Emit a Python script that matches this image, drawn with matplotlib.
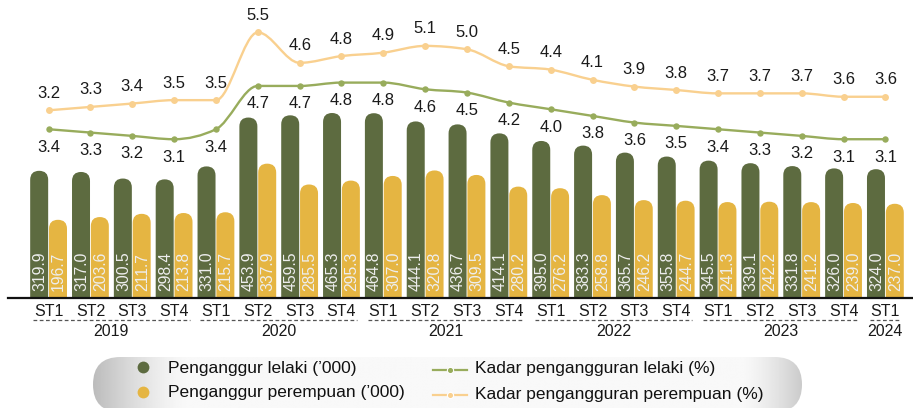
import matplotlib
matplotlib.use('Agg')
import matplotlib.pyplot as plt
import matplotlib.transforms as mtransforms
from matplotlib.patches import FancyBboxPatch, PathPatch
from matplotlib.path import Path
import numpy as np

plt.rcParams['font.family'] = ['Liberation Sans', 'DejaVu Sans']

# ---------------- data ----------------
quarters = ['ST1', 'ST2', 'ST3', 'ST4',
            'ST1', 'ST2', 'ST3', 'ST4',
            'ST1', 'ST2', 'ST3', 'ST4',
            'ST1', 'ST2', 'ST3', 'ST4',
            'ST1', 'ST2', 'ST3', 'ST4',
            'ST1']
years = ['2019', '2020', '2021', '2022', '2023', '2024']
year_quarters = [4, 4, 4, 4, 4, 1]

male_count = [319.9, 317.0, 300.5, 298.4, 331.0, 453.9, 459.5, 465.3, 464.8, 444.1,
              436.7, 414.1, 395.0, 383.3, 365.7, 355.8, 345.5, 339.1, 331.8, 326.0, 324.0]
female_count = [196.7, 203.6, 211.7, 213.8, 215.7, 337.9, 285.5, 295.3, 307.0, 320.8,
                309.5, 280.2, 276.2, 258.8, 246.2, 244.7, 241.3, 242.2, 241.2, 239.0, 237.0]
male_rate = [3.4, 3.3, 3.2, 3.1, 3.4, 4.7, 4.7, 4.8, 4.8, 4.6, 4.5,
             4.2, 4.0, 3.8, 3.6, 3.5, 3.4, 3.3, 3.2, 3.1, 3.1]
female_rate = [3.2, 3.3, 3.4, 3.5, 3.5, 5.5, 4.6, 4.8, 4.9, 5.1, 5.0,
               4.5, 4.4, 4.1, 3.9, 3.8, 3.7, 3.7, 3.7, 3.6, 3.6]

legend_labels = ["Penganggur lelaki (\u2019000)", "Penganggur perempuan (\u2019000)",
                 "Kadar pengangguran lelaki (%)", "Kadar pengangguran perempuan (%)"]

# ---------------- styles ----------------
GREEN = '#5D6B40'
YELLOW = '#E5B542'
MLINE = '#98AC5C'
FLINE = '#F9D08F'

W, H = 913, 408
fig = plt.figure(figsize=(W / 100, H / 100), dpi=100)
ax = fig.add_axes([8 / W, (H - 298) / H, 1 - 8 / W, 298 / H])
n = len(male_count)
x = np.arange(n)
ax.set_xlim(-0.97, 20.66)
ax.set_ylim(0, 749.5)

ax_px_w = (1 - 8 / W) * W
ax_px_h = 298
sx = ax_px_w / (20.66 + 0.97)   # px per x unit
sy = ax_px_h / 749.5            # px per y unit
aspect = sx / sy

bw = 0.43
off = 0.225
r = bw / 2


def rounded_bar(axis, xc, h, color):
    p = FancyBboxPatch((xc - bw / 2, -r * aspect), bw, h + r * aspect,
                       boxstyle=f"round,pad=0,rounding_size={r}",
                       mutation_aspect=aspect, facecolor=color, edgecolor='none',
                       zorder=2)
    axis.add_patch(p)


for i in range(n):
    rounded_bar(ax, x[i] - off, male_count[i], GREEN)
    rounded_bar(ax, x[i] + off, female_count[i], YELLOW)
    for xc, v in ((x[i] - off, male_count[i]), (x[i] + off, female_count[i])):
        ax.annotate(f"{v:.1f}", (xc, 0), xytext=(0.5, 5), textcoords='offset points',
                    rotation=90, ha='center', va='bottom', fontsize=11.3,
                    color='#EEEEEE', zorder=3)

for s in ('top', 'right', 'left'):
    ax.spines[s].set_visible(False)
ax.spines['bottom'].set_linewidth(1.6)
ax.spines['bottom'].set_color('#111111')
ax.spines['bottom'].set_zorder(5)
ax.set_yticks([])
ax.set_xticks(x, quarters, fontsize=11.5, color='#1a1a1a')
ax.tick_params(axis='x', length=0, pad=4.5)

# year groups
trans = mtransforms.blended_transform_factory(ax.transData, ax.transAxes)
start = 0
for yr, cnt in zip(years, year_quarters):
    a, b = start, start + cnt - 1
    ax.plot([a - 0.37, b + 0.37], [-0.074, -0.074], transform=trans, clip_on=False,
            color='#555555', lw=0.9, ls=(0, (3, 2)))
    ax.text((a + b) / 2, -0.112, yr, transform=trans, ha='center', va='center',
            fontsize=11.5, color='#1a1a1a')
    start += cnt


# ---------------- lines (monotone cubic drawing) ----------------
def monotone_path(xs, ys):
    xs = np.asarray(xs, float)
    ys = np.asarray(ys, float)
    m = len(xs)
    s = np.diff(ys) / np.diff(xs)
    t = np.zeros(m)
    for i in range(1, m - 1):
        s0, s1 = s[i - 1], s[i]
        p = (s0 + s1) / 2
        sg = (1 if s0 >= 0 else -1) + (1 if s1 >= 0 else -1)
        t[i] = sg * min(abs(s0), abs(s1), 0.5 * abs(p))
    t[0] = (3 * s[0] - t[1]) / 2
    t[-1] = (3 * s[-1] - t[-2]) / 2
    verts = [(xs[0], ys[0])]
    codes = [Path.MOVETO]
    for i in range(m - 1):
        dx = xs[i + 1] - xs[i]
        verts += [(xs[i] + dx / 3, ys[i] + dx * t[i] / 3),
                  (xs[i + 1] - dx / 3, ys[i + 1] - dx * t[i + 1] / 3),
                  (xs[i + 1], ys[i + 1])]
        codes += [Path.CURVE4] * 3
    return Path(verts, codes)


ax_f = ax.twinx()
ax_f.set_ylim(-2.336, 6.454)
ax_m = ax.twinx()
ax_m.set_ylim(-1.667, 7.28)
for a_ in (ax_f, ax_m):
    a_.axis('off')
    a_.set_xlim(ax.get_xlim())

ax_f.add_patch(PathPatch(monotone_path(x, female_rate), fill=False, edgecolor=FLINE, lw=1.7))
ax_f.plot(x, female_rate, 'o', ms=5, color=FLINE, mec='none')
for xi, v in zip(x, female_rate):
    ax_f.annotate(f"{v:.1f}", (xi, v), xytext=(0, 12.2), textcoords='offset points',
                  ha='center', va='center', fontsize=12, color='#1a1a1a')

ax_m.add_patch(PathPatch(monotone_path(x, male_rate), fill=False, edgecolor=MLINE, lw=1.7))
ax_m.plot(x, male_rate, 'o', ms=4.6, color=MLINE, mec='none')
for xi, v in zip(x, male_rate):
    ax_m.annotate(f"{v:.1f}", (xi, v), xytext=(0, -12.8), textcoords='offset points',
                  ha='center', va='center', fontsize=12, color='#1a1a1a')

# ---------------- legend (pill) ----------------
lax = fig.add_axes([0, 0, 1, 1], zorder=-1)
lax.set_xlim(0, W)
lax.set_ylim(H, 0)
lax.axis('off')

px0, px1, py0, py1 = 93, 802, 357, 412
pill = FancyBboxPatch((px0, py0), px1 - px0, py1 - py0,
                      boxstyle=f"round,pad=0,rounding_size={(py1 - py0) / 2}",
                      facecolor='none', edgecolor='none')
lax.add_patch(pill)
gx = np.linspace(px0, px1, 800)
left = np.clip(1 - (gx - px0) / 95, 0, 1) ** 1.4
right = np.clip(1 - (px1 - gx) / 60, 0, 1) ** 1.4
vals = 0.975 - 0.24 * left - 0.18 * right
grad = np.tile(vals, (2, 1))
im = lax.imshow(grad, cmap='gray', vmin=0, vmax=1, aspect='auto',
                extent=(px0, px1, py1, py0), interpolation='bilinear')
im.set_clip_path(pill)

lax.plot([143], [367], 'o', ms=8.5, color=GREEN, mec='none')
lax.plot([143], [392], 'o', ms=8.5, color=YELLOW, mec='none')
lax.text(168, 368, legend_labels[0], va='center', ha='left', fontsize=12.5, color='#111111')
lax.text(168, 393, legend_labels[1], va='center', ha='left', fontsize=12.5, color='#111111')
lax.plot([433, 467], [370, 370], color=MLINE, lw=1.6)
lax.plot([450], [370], 'o', ms=4.5, color=MLINE, mec='white', mew=0.8)
lax.plot([433, 467], [395, 395], color=FLINE, lw=1.6)
lax.plot([450], [395], 'o', ms=4.5, color=FLINE, mec='white', mew=0.8)
lax.text(475, 369, legend_labels[2], va='center', ha='left', fontsize=12.5, color='#111111')
lax.text(475, 394, legend_labels[3], va='center', ha='left', fontsize=12.5, color='#111111')

fig.savefig('out.png', dpi=100)
